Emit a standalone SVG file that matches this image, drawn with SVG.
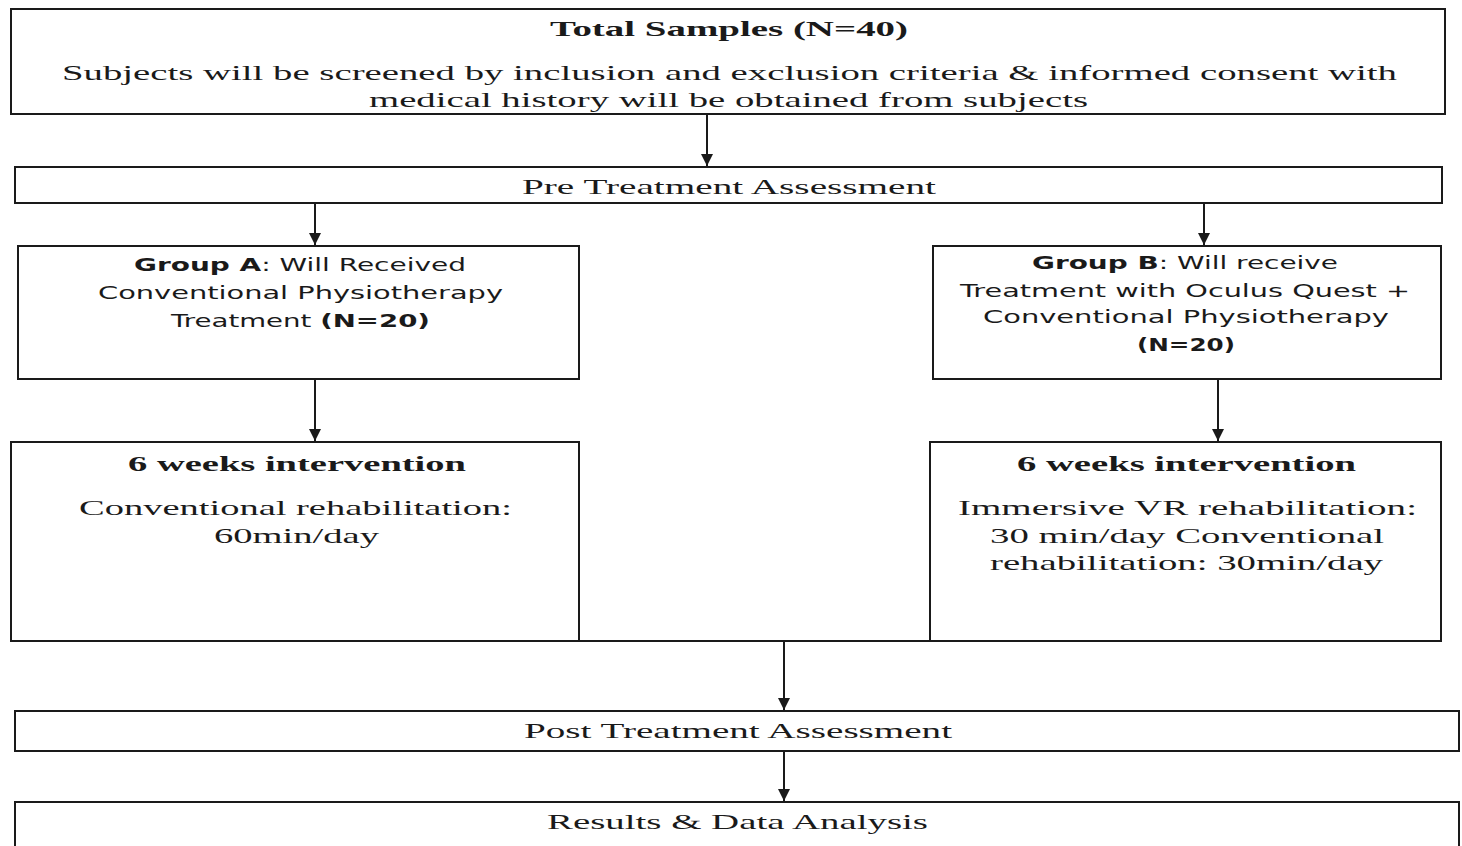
<svg xmlns="http://www.w3.org/2000/svg" width="1462" height="846" viewBox="0 0 1462 846">
<defs>
<style>
.box{fill:#fff;stroke:#1a1a1a;stroke-width:2}
.s{font-family:"Liberation Serif","Times New Roman",serif;font-size:22px;fill:#1a1a1a;text-anchor:middle}
.b{font-weight:bold}
.ss{font-family:"DejaVu Sans","Open Sans",sans-serif;font-size:17px;fill:#1a1a1a;text-anchor:middle}
.con{stroke:#1a1a1a;stroke-width:2;fill:none}
</style>
<marker id="ah" viewBox="0 0 12 12" refX="12" refY="6" markerWidth="12" markerHeight="12" markerUnits="userSpaceOnUse" orient="auto">
<path d="M0,0 L12,6 L0,12 z" fill="#1a1a1a"/>
</marker>
</defs>
<rect width="1462" height="846" fill="#fff"/>
<g id="connectors">
<line class="con" x1="707" y1="114" x2="707" y2="166" marker-end="url(#ah)"/>
<line class="con" x1="315" y1="203" x2="315" y2="245" marker-end="url(#ah)"/>
<line class="con" x1="1204" y1="203" x2="1204" y2="245" marker-end="url(#ah)"/>
<line class="con" x1="315" y1="379" x2="315" y2="441" marker-end="url(#ah)"/>
<line class="con" x1="1218" y1="379" x2="1218" y2="441" marker-end="url(#ah)"/>
<line class="con" x1="579" y1="641" x2="930" y2="641"/>
<line class="con" x1="784" y1="641" x2="784" y2="710" marker-end="url(#ah)"/>
<line class="con" x1="784" y1="751" x2="784" y2="801" marker-end="url(#ah)"/>
</g>
<g id="total">
<rect class="box" x="11" y="9" width="1434" height="105"/>
<text class="s b" x="729" y="36" textLength="358" lengthAdjust="spacingAndGlyphs">Total Samples (N=40)</text>
<text class="s" x="729.5" y="80" textLength="1335" lengthAdjust="spacingAndGlyphs">Subjects will be screened by inclusion and exclusion criteria &amp; informed consent with</text>
<text class="s" x="728.5" y="107" textLength="719" lengthAdjust="spacingAndGlyphs">medical history will be obtained from subjects</text>
</g>
<g id="pre">
<rect class="box" x="15" y="167" width="1427" height="36"/>
<text class="s" x="729" y="194" textLength="414" lengthAdjust="spacingAndGlyphs">Pre Treatment Assessment</text>
</g>
<g id="groupA">
<rect class="box" x="18" y="246" width="561" height="133"/>
<text class="ss" x="300" y="271" textLength="332" lengthAdjust="spacingAndGlyphs"><tspan class="b">Group A</tspan>: Will Received</text>
<text class="ss" x="300.5" y="299" textLength="405" lengthAdjust="spacingAndGlyphs">Conventional Physiotherapy</text>
<text class="ss" x="300.5" y="327" textLength="259" lengthAdjust="spacingAndGlyphs">Treatment <tspan class="b">(N=20)</tspan></text>
</g>
<g id="groupB">
<rect class="box" x="933" y="246" width="508" height="133"/>
<text class="ss" x="1185" y="269" textLength="306" lengthAdjust="spacingAndGlyphs"><tspan class="b">Group B</tspan>: Will receive</text>
<text class="ss" x="1185" y="297" textLength="450" lengthAdjust="spacingAndGlyphs">Treatment with Oculus Quest +</text>
<text class="ss" x="1186" y="323" textLength="406" lengthAdjust="spacingAndGlyphs">Conventional Physiotherapy</text>
<text class="ss b" x="1186" y="351" textLength="98" lengthAdjust="spacingAndGlyphs">(N=20)</text>
</g>
<g id="interventionA">
<rect class="box" x="11" y="442" width="568" height="199"/>
<text class="s b" x="297" y="471" textLength="338" lengthAdjust="spacingAndGlyphs">6 weeks intervention</text>
<text class="s" x="295.5" y="515" textLength="433" lengthAdjust="spacingAndGlyphs">Conventional rehabilitation:</text>
<text class="s" x="296.5" y="543" textLength="165" lengthAdjust="spacingAndGlyphs">60min/day</text>
</g>
<g id="interventionB">
<rect class="box" x="930" y="442" width="511" height="199"/>
<text class="s b" x="1186.5" y="471" textLength="339" lengthAdjust="spacingAndGlyphs">6 weeks intervention</text>
<text class="s" x="1187.5" y="515" textLength="459" lengthAdjust="spacingAndGlyphs">Immersive VR rehabilitation:</text>
<text class="s" x="1187" y="543" textLength="394" lengthAdjust="spacingAndGlyphs">30 min/day Conventional</text>
<text class="s" x="1186.5" y="570" textLength="393" lengthAdjust="spacingAndGlyphs">rehabilitation: 30min/day</text>
</g>
<g id="post">
<rect class="box" x="15" y="711" width="1444" height="40"/>
<text class="s" x="738" y="738" textLength="428" lengthAdjust="spacingAndGlyphs">Post Treatment Assessment</text>
</g>
<g id="results">
<rect class="box" x="15" y="802" width="1444" height="60"/>
<text class="s" x="737.5" y="829" textLength="381" lengthAdjust="spacingAndGlyphs">Results &amp; Data Analysis</text>
</g>
</svg>
